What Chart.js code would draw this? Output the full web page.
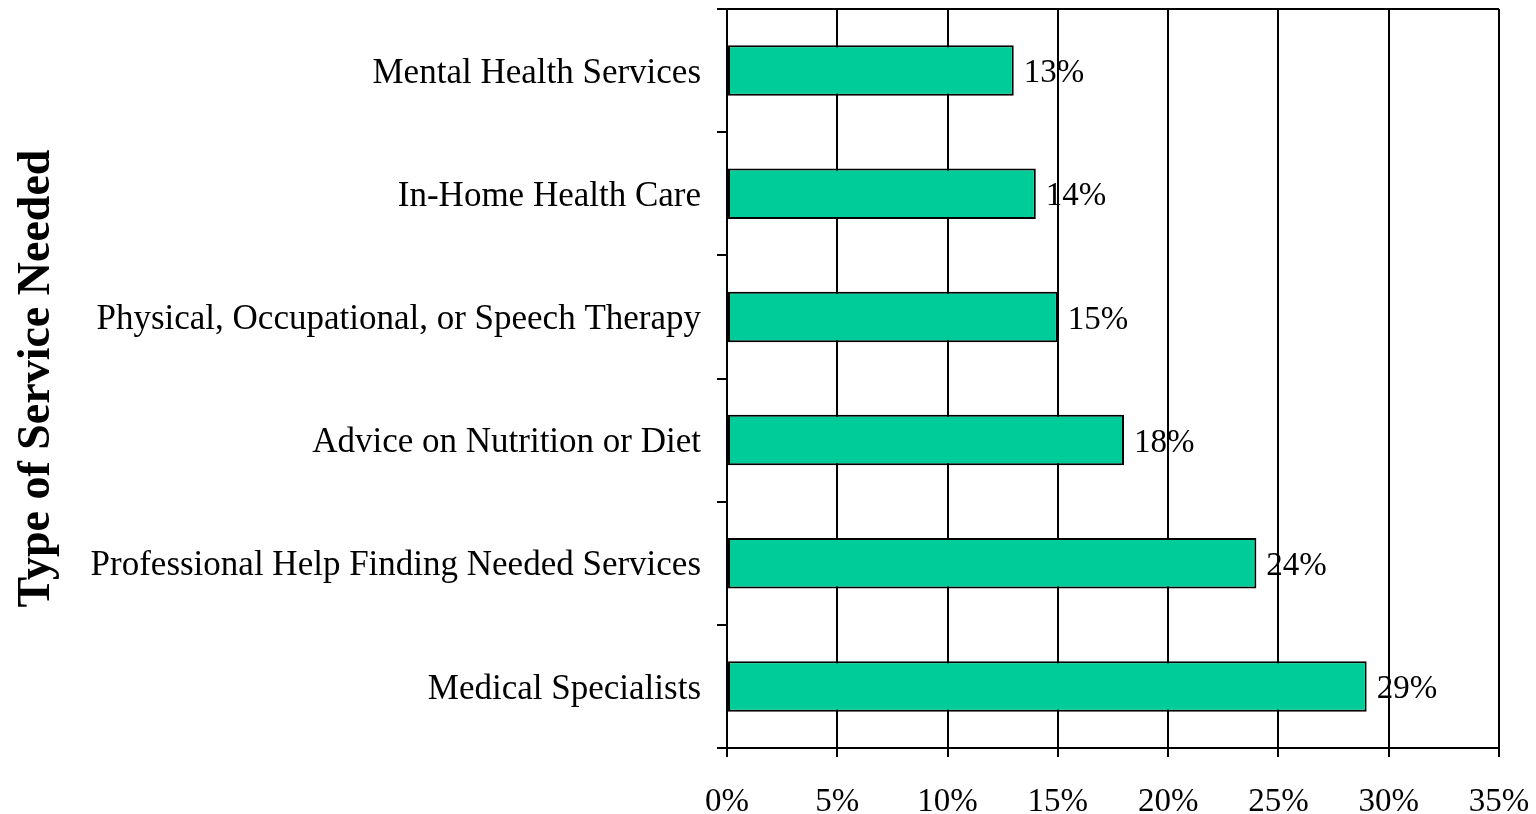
<!DOCTYPE html>
<html>
<head>
<meta charset="utf-8">
<script src="https://cdn.jsdelivr.net/npm/chart.js@4"></script>
<style>
  html, body { margin: 0; padding: 0; background: #fff; }
  #wrap { width: 1536px; height: 814px; }
</style>
</head>
<body>
<div id="wrap"><canvas id="chart" width="1536" height="814"></canvas></div>
<script>
const services = [
    'Mental Health Services',
    'In-Home Health Care',
    'Physical, Occupational, or Speech Therapy',
    'Advice on Nutrition or Diet',
    'Professional Help Finding Needed Services',
    'Medical Specialists'
];
const percentNeeded = [13, 14, 15, 18, 24, 29];
const axisTicks = [0, 5, 10, 15, 20, 25, 30, 35];

const serif = '"Liberation Serif", "Times New Roman", serif';

// box line along the top of the plot area
const topBorder = {
    id: 'topBorder',
    afterDraw(chart) {
        const a = chart.chartArea;
        const c = chart.ctx;
        c.save();
        c.strokeStyle = '#000';
        c.lineWidth = 2;
        c.beginPath();
        c.moveTo(a.left, a.top);
        c.lineTo(a.right, a.top);
        c.stroke();
        c.restore();
    }
};

// value labels just past the end of each bar
const barLabels = {
    id: 'barLabels',
    afterDatasetsDraw(chart) {
        const c = chart.ctx;
        const meta = chart.getDatasetMeta(0);
        c.save();
        c.font = '33px ' + serif;
        c.fillStyle = '#000';
        c.textBaseline = 'middle';
        c.textAlign = 'left';
        meta.data.forEach(function(bar, i) {
            c.fillText(percentNeeded[i] + '%', bar.x + 10, bar.y + 3);
        });
        c.restore();
    }
};

const ctx = document.getElementById('chart').getContext('2d');
new Chart(ctx, {
    type: 'bar',
    data: {
        labels: services,
        datasets: [{
            data: percentNeeded,
            backgroundColor: '#00CC99',
            borderColor: '#000',
            borderWidth: 2,
            borderSkipped: false,
            barPercentage: 0.41,
            categoryPercentage: 1
        }]
    },
    options: {
        indexAxis: 'y',
        responsive: false,
        animation: false,
        layout: { padding: { top: 9, right: 37, left: 10, bottom: 0 } },
        plugins: {
            legend: { display: false },
            tooltip: { enabled: false }
        },
        scales: {
            x: {
                min: axisTicks[0],
                max: axisTicks[axisTicks.length - 1],
                afterBuildTicks(scale) {
                    scale.ticks = axisTicks.map(v => ({ value: v }));
                },
                afterFit(scale) {
                    scale.height = 66;
                    scale.paddingLeft = 0;
                    scale.paddingRight = 0;
                },
                grid: {
                    color: '#000',
                    lineWidth: 2,
                    tickLength: 9,
                    drawOnChartArea: true
                },
                border: { color: '#000', width: 2 },
                ticks: {
                    color: '#000',
                    font: { family: serif, size: 33 },
                    padding: 26,
                    maxRotation: 0,
                    callback: v => v + '%'
                }
            },
            y: {
                afterFit(scale) {
                    scale.width = 717;
                    scale.paddingTop = 0;
                    scale.paddingBottom = 0;
                },
                grid: {
                    offset: true,
                    color: '#000',
                    lineWidth: 2,
                    tickLength: 10,
                    drawOnChartArea: false
                },
                border: { color: '#000', width: 2 },
                ticks: {
                    color: '#000',
                    font: { family: serif, size: 35 },
                    padding: 16,
                    labelOffset: 3
                },
                title: {
                    display: true,
                    text: 'Type of Service Needed',
                    color: '#000',
                    font: { family: serif, size: 46, weight: 'bold' },
                    padding: 0
                }
            }
        }
    },
    plugins: [topBorder, barLabels]
});
</script>
</body>
</html>
